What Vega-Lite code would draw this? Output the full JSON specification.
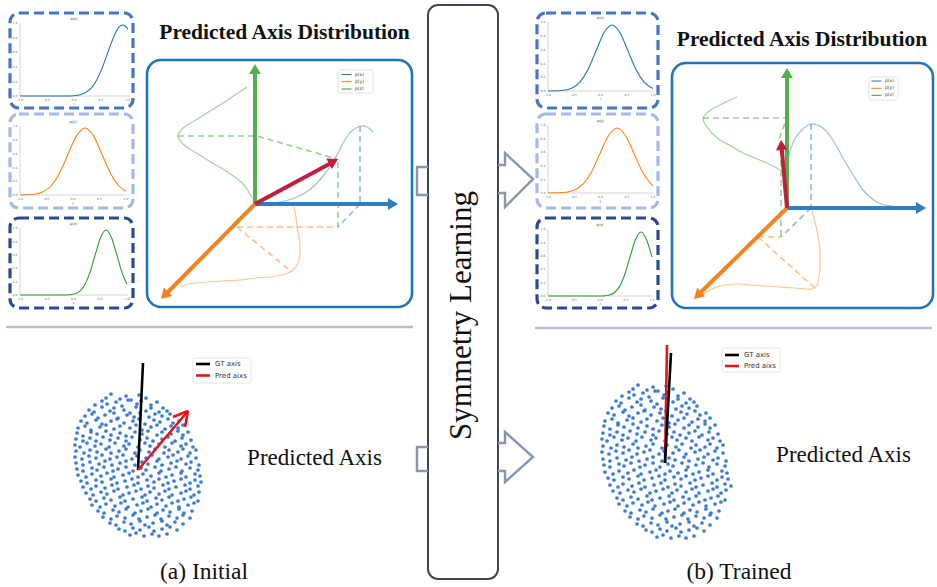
{
"$schema":"https://vega.github.io/schema/vega-lite/v6.json",
"width":937,"height":587,"padding":0,
"autosize":{"type":"fit","contains":"padding"},
"background":"white",
"config":{"view":{"stroke":null}},
"datasets":{
"cloud":[
{"x":106,"y":398},{"x":111,"y":394},{"x":120,"y":399},{"x":126,"y":396},{"x":131,"y":400},{"x":139,"y":395},{"x":146,"y":398},
{"x":95,"y":405},{"x":102,"y":401},{"x":107,"y":404},{"x":116,"y":402},{"x":122,"y":406},{"x":128,"y":400},{"x":137,"y":404},{"x":141,"y":401},{"x":151,"y":405},{"x":157,"y":402},
{"x":89,"y":410},{"x":94,"y":412},{"x":102,"y":407},{"x":110,"y":411},{"x":114,"y":408},{"x":124,"y":410},{"x":130,"y":413},{"x":136,"y":407},{"x":146,"y":411},{"x":151,"y":408},{"x":159,"y":412},{"x":163,"y":408},{"x":167,"y":411},
{"x":85,"y":416},{"x":92,"y":414},{"x":98,"y":418},{"x":105,"y":415},{"x":114,"y":413},{"x":118,"y":418},{"x":127,"y":415},{"x":134,"y":417},{"x":140,"y":413},{"x":149,"y":417},{"x":155,"y":414},{"x":162,"y":416},{"x":170,"y":414},
{"x":81,"y":421},{"x":87,"y":423},{"x":96,"y":420},{"x":102,"y":424},{"x":111,"y":421},{"x":117,"y":419},{"x":124,"y":423},{"x":133,"y":421},{"x":139,"y":419},{"x":145,"y":424},{"x":154,"y":420},{"x":160,"y":422},{"x":168,"y":419},{"x":173,"y":423},{"x":179,"y":421},
{"x":78,"y":428},{"x":85,"y":426},{"x":91,"y":430},{"x":100,"y":427},{"x":106,"y":425},{"x":114,"y":429},{"x":120,"y":426},{"x":130,"y":428},{"x":136,"y":425},{"x":142,"y":430},{"x":151,"y":427},{"x":157,"y":425},{"x":165,"y":429},{"x":171,"y":426},{"x":178,"y":428},{"x":183,"y":425},
{"x":77,"y":433},{"x":83,"y":436},{"x":91,"y":432},{"x":97,"y":434},{"x":106,"y":431},{"x":111,"y":435},{"x":120,"y":433},{"x":126,"y":436},{"x":135,"y":432},{"x":142,"y":434},{"x":148,"y":431},{"x":157,"y":435},{"x":162,"y":432},{"x":171,"y":434},{"x":178,"y":431},{"x":183,"y":435},{"x":188,"y":432},
{"x":76,"y":439},{"x":83,"y":441},{"x":90,"y":438},{"x":96,"y":441},{"x":103,"y":437},{"x":110,"y":440},{"x":118,"y":438},{"x":126,"y":441},{"x":132,"y":437},{"x":140,"y":440},{"x":147,"y":438},{"x":153,"y":441},{"x":162,"y":439},{"x":168,"y":437},{"x":175,"y":441},{"x":182,"y":438},{"x":191,"y":440},
{"x":75,"y":445},{"x":80,"y":447},{"x":87,"y":443},{"x":95,"y":446},{"x":101,"y":444},{"x":109,"y":447},{"x":115,"y":443},{"x":124,"y":446},{"x":129,"y":444},{"x":138,"y":447},{"x":145,"y":443},{"x":150,"y":446},{"x":159,"y":444},{"x":165,"y":447},{"x":172,"y":443},{"x":181,"y":446},{"x":186,"y":444},{"x":193,"y":447},
{"x":76,"y":451},{"x":84,"y":453},{"x":90,"y":450},{"x":97,"y":452},{"x":106,"y":449},{"x":111,"y":453},{"x":119,"y":451},{"x":126,"y":449},{"x":135,"y":453},{"x":140,"y":450},{"x":149,"y":452},{"x":155,"y":449},{"x":164,"y":453},{"x":169,"y":450},{"x":178,"y":452},{"x":183,"y":449},{"x":190,"y":453},{"x":196,"y":450},
{"x":75,"y":457},{"x":82,"y":459},{"x":89,"y":456},{"x":96,"y":458},{"x":102,"y":455},{"x":110,"y":459},{"x":117,"y":457},{"x":123,"y":455},{"x":132,"y":459},{"x":137,"y":456},{"x":146,"y":458},{"x":152,"y":455},{"x":159,"y":459},{"x":168,"y":457},{"x":173,"y":455},{"x":181,"y":459},{"x":188,"y":456},{"x":196,"y":458},
{"x":76,"y":463},{"x":83,"y":465},{"x":90,"y":462},{"x":99,"y":464},{"x":105,"y":461},{"x":112,"y":465},{"x":120,"y":463},{"x":126,"y":461},{"x":135,"y":465},{"x":142,"y":462},{"x":148,"y":464},{"x":157,"y":461},{"x":162,"y":465},{"x":171,"y":463},{"x":177,"y":461},{"x":186,"y":464},{"x":191,"y":462},{"x":199,"y":465},
{"x":77,"y":469},{"x":83,"y":471},{"x":92,"y":468},{"x":97,"y":470},{"x":104,"y":467},{"x":113,"y":471},{"x":118,"y":469},{"x":126,"y":467},{"x":133,"y":471},{"x":141,"y":468},{"x":146,"y":470},{"x":155,"y":467},{"x":161,"y":471},{"x":169,"y":469},{"x":176,"y":467},{"x":182,"y":471},{"x":190,"y":468},{"x":198,"y":470},
{"x":78,"y":475},{"x":86,"y":477},{"x":92,"y":474},{"x":101,"y":476},{"x":107,"y":473},{"x":114,"y":477},{"x":123,"y":475},{"x":129,"y":473},{"x":138,"y":477},{"x":143,"y":474},{"x":151,"y":476},{"x":159,"y":473},{"x":166,"y":477},{"x":172,"y":475},{"x":181,"y":473},{"x":186,"y":477},{"x":195,"y":474},{"x":200,"y":476},
{"x":81,"y":481},{"x":87,"y":483},{"x":96,"y":480},{"x":102,"y":482},{"x":111,"y":479},{"x":117,"y":483},{"x":125,"y":481},{"x":132,"y":479},{"x":138,"y":483},{"x":147,"y":480},{"x":154,"y":482},{"x":159,"y":479},{"x":168,"y":483},{"x":174,"y":481},{"x":181,"y":479},{"x":190,"y":483},{"x":195,"y":480},{"x":201,"y":482},
{"x":83,"y":487},{"x":91,"y":489},{"x":96,"y":486},{"x":105,"y":488},{"x":112,"y":485},{"x":118,"y":489},{"x":127,"y":487},{"x":134,"y":485},{"x":141,"y":489},{"x":148,"y":486},{"x":154,"y":488},{"x":163,"y":485},{"x":169,"y":489},{"x":176,"y":487},{"x":185,"y":485},{"x":190,"y":489},{"x":198,"y":486},
{"x":86,"y":493},{"x":93,"y":495},{"x":101,"y":492},{"x":107,"y":494},{"x":114,"y":491},{"x":123,"y":495},{"x":129,"y":493},{"x":136,"y":491},{"x":145,"y":495},{"x":150,"y":492},{"x":159,"y":494},{"x":165,"y":491},{"x":172,"y":495},{"x":181,"y":493},{"x":186,"y":491},{"x":194,"y":495},{"x":199,"y":492},
{"x":90,"y":499},{"x":96,"y":501},{"x":104,"y":498},{"x":111,"y":500},{"x":120,"y":497},{"x":125,"y":501},{"x":133,"y":499},{"x":142,"y":497},{"x":147,"y":501},{"x":156,"y":498},{"x":162,"y":500},{"x":169,"y":497},{"x":178,"y":501},{"x":184,"y":499},{"x":191,"y":497},{"x":198,"y":501},
{"x":92,"y":505},{"x":100,"y":507},{"x":106,"y":504},{"x":115,"y":506},{"x":121,"y":503},{"x":128,"y":507},{"x":137,"y":505},{"x":143,"y":503},{"x":151,"y":507},{"x":157,"y":504},{"x":166,"y":506},{"x":172,"y":503},{"x":179,"y":507},{"x":188,"y":505},{"x":194,"y":503},
{"x":98,"y":511},{"x":104,"y":513},{"x":113,"y":510},{"x":119,"y":512},{"x":126,"y":509},{"x":135,"y":513},{"x":141,"y":511},{"x":148,"y":509},{"x":157,"y":513},{"x":163,"y":510},{"x":170,"y":512},{"x":179,"y":509},{"x":184,"y":513},{"x":192,"y":511},
{"x":103,"y":517},{"x":111,"y":519},{"x":117,"y":516},{"x":125,"y":518},{"x":133,"y":515},{"x":139,"y":519},{"x":147,"y":517},{"x":155,"y":515},{"x":161,"y":519},{"x":169,"y":516},{"x":177,"y":518},{"x":183,"y":515},{"x":190,"y":518},
{"x":110,"y":523},{"x":116,"y":525},{"x":124,"y":522},{"x":131,"y":524},{"x":140,"y":521},{"x":145,"y":525},{"x":153,"y":523},{"x":162,"y":521},{"x":167,"y":525},{"x":175,"y":522},{"x":183,"y":524},
{"x":119,"y":529},{"x":125,"y":531},{"x":133,"y":528},{"x":140,"y":530},{"x":149,"y":527},{"x":154,"y":531},{"x":162,"y":529},{"x":170,"y":527},{"x":177,"y":530},
{"x":130,"y":535},{"x":136,"y":533},{"x":144,"y":536},{"x":152,"y":534},{"x":159,"y":536},{"x":167,"y":534},
{"x":633,"y":389},{"x":638,"y":385},{"x":647,"y":390},{"x":653,"y":387},{"x":658,"y":391},{"x":666,"y":386},{"x":673,"y":389},
{"x":622,"y":396},{"x":629,"y":392},{"x":634,"y":395},{"x":643,"y":393},{"x":649,"y":397},{"x":655,"y":391},{"x":664,"y":395},{"x":668,"y":392},{"x":678,"y":396},{"x":684,"y":393},
{"x":616,"y":401},{"x":621,"y":403},{"x":629,"y":398},{"x":637,"y":402},{"x":641,"y":399},{"x":651,"y":401},{"x":657,"y":404},{"x":663,"y":398},{"x":673,"y":402},{"x":678,"y":399},{"x":686,"y":403},{"x":690,"y":399},{"x":694,"y":402},
{"x":612,"y":408},{"x":619,"y":406},{"x":625,"y":410},{"x":632,"y":407},{"x":641,"y":405},{"x":645,"y":410},{"x":654,"y":407},{"x":661,"y":409},{"x":667,"y":405},{"x":676,"y":409},{"x":682,"y":406},{"x":689,"y":408},{"x":697,"y":406},
{"x":608,"y":413},{"x":614,"y":415},{"x":623,"y":412},{"x":629,"y":416},{"x":638,"y":413},{"x":644,"y":411},{"x":651,"y":415},{"x":660,"y":413},{"x":666,"y":411},{"x":672,"y":416},{"x":681,"y":412},{"x":687,"y":414},{"x":695,"y":411},{"x":700,"y":415},{"x":706,"y":413},
{"x":605,"y":421},{"x":612,"y":419},{"x":618,"y":423},{"x":627,"y":420},{"x":633,"y":418},{"x":641,"y":422},{"x":647,"y":419},{"x":657,"y":421},{"x":663,"y":418},{"x":669,"y":423},{"x":678,"y":420},{"x":684,"y":418},{"x":692,"y":422},{"x":698,"y":419},{"x":705,"y":421},{"x":710,"y":418},
{"x":604,"y":426},{"x":610,"y":429},{"x":618,"y":425},{"x":624,"y":427},{"x":633,"y":424},{"x":638,"y":428},{"x":647,"y":426},{"x":653,"y":429},{"x":662,"y":425},{"x":669,"y":427},{"x":675,"y":424},{"x":684,"y":428},{"x":689,"y":425},{"x":698,"y":427},{"x":705,"y":424},{"x":710,"y":428},{"x":715,"y":425},
{"x":603,"y":433},{"x":610,"y":435},{"x":617,"y":432},{"x":623,"y":435},{"x":630,"y":431},{"x":637,"y":434},{"x":645,"y":432},{"x":653,"y":435},{"x":659,"y":431},{"x":667,"y":434},{"x":674,"y":432},{"x":680,"y":435},{"x":689,"y":433},{"x":695,"y":431},{"x":702,"y":435},{"x":709,"y":432},{"x":718,"y":434},
{"x":602,"y":439},{"x":607,"y":441},{"x":614,"y":437},{"x":622,"y":440},{"x":628,"y":438},{"x":636,"y":441},{"x":642,"y":437},{"x":651,"y":440},{"x":656,"y":438},{"x":665,"y":441},{"x":672,"y":437},{"x":677,"y":440},{"x":686,"y":438},{"x":692,"y":441},{"x":699,"y":437},{"x":708,"y":440},{"x":713,"y":438},{"x":720,"y":441},
{"x":603,"y":446},{"x":611,"y":448},{"x":617,"y":445},{"x":624,"y":447},{"x":633,"y":444},{"x":638,"y":448},{"x":646,"y":446},{"x":653,"y":444},{"x":662,"y":448},{"x":667,"y":445},{"x":676,"y":447},{"x":682,"y":444},{"x":691,"y":448},{"x":696,"y":445},{"x":705,"y":447},{"x":710,"y":444},{"x":717,"y":448},{"x":723,"y":445},
{"x":602,"y":452},{"x":609,"y":454},{"x":616,"y":451},{"x":623,"y":453},{"x":629,"y":450},{"x":637,"y":454},{"x":644,"y":452},{"x":650,"y":450},{"x":659,"y":454},{"x":664,"y":451},{"x":673,"y":453},{"x":679,"y":450},{"x":686,"y":454},{"x":695,"y":452},{"x":700,"y":450},{"x":708,"y":454},{"x":715,"y":451},{"x":723,"y":453},
{"x":603,"y":459},{"x":610,"y":461},{"x":617,"y":458},{"x":626,"y":460},{"x":632,"y":457},{"x":639,"y":461},{"x":647,"y":459},{"x":653,"y":457},{"x":662,"y":461},{"x":669,"y":458},{"x":675,"y":460},{"x":684,"y":457},{"x":689,"y":461},{"x":698,"y":459},{"x":704,"y":457},{"x":713,"y":460},{"x":718,"y":458},{"x":726,"y":461},
{"x":604,"y":465},{"x":610,"y":467},{"x":619,"y":464},{"x":624,"y":466},{"x":631,"y":463},{"x":640,"y":467},{"x":645,"y":465},{"x":653,"y":463},{"x":660,"y":467},{"x":668,"y":464},{"x":673,"y":466},{"x":682,"y":463},{"x":688,"y":467},{"x":696,"y":465},{"x":703,"y":463},{"x":709,"y":467},{"x":717,"y":464},{"x":725,"y":466},
{"x":605,"y":472},{"x":613,"y":474},{"x":619,"y":471},{"x":628,"y":473},{"x":634,"y":470},{"x":641,"y":474},{"x":650,"y":472},{"x":656,"y":470},{"x":665,"y":474},{"x":670,"y":471},{"x":678,"y":473},{"x":686,"y":470},{"x":693,"y":474},{"x":699,"y":472},{"x":708,"y":470},{"x":713,"y":474},{"x":722,"y":471},{"x":727,"y":473},
{"x":608,"y":478},{"x":614,"y":480},{"x":623,"y":477},{"x":629,"y":479},{"x":638,"y":476},{"x":644,"y":480},{"x":652,"y":478},{"x":659,"y":476},{"x":665,"y":480},{"x":674,"y":477},{"x":681,"y":479},{"x":686,"y":476},{"x":695,"y":480},{"x":701,"y":478},{"x":708,"y":476},{"x":717,"y":480},{"x":722,"y":477},{"x":728,"y":479},
{"x":610,"y":485},{"x":618,"y":487},{"x":623,"y":484},{"x":632,"y":486},{"x":639,"y":483},{"x":645,"y":487},{"x":654,"y":485},{"x":661,"y":483},{"x":668,"y":487},{"x":675,"y":484},{"x":681,"y":486},{"x":690,"y":483},{"x":696,"y":487},{"x":703,"y":485},{"x":712,"y":483},{"x":717,"y":487},{"x":725,"y":484},{"x":731,"y":486},
{"x":613,"y":491},{"x":620,"y":493},{"x":628,"y":490},{"x":634,"y":492},{"x":641,"y":489},{"x":650,"y":493},{"x":656,"y":491},{"x":663,"y":489},{"x":672,"y":493},{"x":677,"y":490},{"x":686,"y":492},{"x":692,"y":489},{"x":699,"y":493},{"x":708,"y":491},{"x":713,"y":489},{"x":721,"y":493},{"x":726,"y":490},
{"x":617,"y":498},{"x":623,"y":500},{"x":631,"y":497},{"x":638,"y":499},{"x":647,"y":496},{"x":652,"y":500},{"x":660,"y":498},{"x":669,"y":496},{"x":674,"y":500},{"x":683,"y":497},{"x":689,"y":499},{"x":696,"y":496},{"x":705,"y":500},{"x":711,"y":498},{"x":718,"y":496},{"x":725,"y":500},
{"x":619,"y":504},{"x":627,"y":506},{"x":633,"y":503},{"x":642,"y":505},{"x":648,"y":502},{"x":655,"y":506},{"x":664,"y":504},{"x":670,"y":502},{"x":678,"y":506},{"x":684,"y":503},{"x":693,"y":505},{"x":699,"y":502},{"x":706,"y":506},{"x":715,"y":504},{"x":721,"y":502},
{"x":625,"y":511},{"x":631,"y":513},{"x":640,"y":510},{"x":646,"y":512},{"x":653,"y":509},{"x":662,"y":513},{"x":668,"y":511},{"x":675,"y":509},{"x":684,"y":513},{"x":690,"y":510},{"x":697,"y":512},{"x":706,"y":509},{"x":711,"y":513},{"x":719,"y":511},
{"x":630,"y":517},{"x":638,"y":519},{"x":644,"y":516},{"x":652,"y":518},{"x":660,"y":515},{"x":666,"y":519},{"x":674,"y":517},{"x":682,"y":515},{"x":688,"y":519},{"x":696,"y":516},{"x":704,"y":518},{"x":710,"y":515},{"x":717,"y":518},
{"x":637,"y":524},{"x":643,"y":526},{"x":651,"y":523},{"x":658,"y":525},{"x":667,"y":522},{"x":672,"y":526},{"x":680,"y":524},{"x":689,"y":522},{"x":694,"y":526},{"x":702,"y":523},{"x":710,"y":525},
{"x":646,"y":530},{"x":652,"y":532},{"x":660,"y":529},{"x":667,"y":531},{"x":676,"y":528},{"x":681,"y":532},{"x":689,"y":530},{"x":697,"y":528},{"x":704,"y":531},
{"x":657,"y":537},{"x":663,"y":535},{"x":671,"y":538},{"x":679,"y":536},{"x":686,"y":538},{"x":694,"y":536}
],
"sc":[
{"g":"L1","s":"x","o":0,"x":20,"y":96},{"g":"L1","s":"x","o":1,"x":70,"y":96},{"g":"L1","s":"x","o":2,"x":77.7,"y":95.2},{"g":"L1","s":"x","o":3,"x":85.2,"y":92.9},{"g":"L1","s":"x","o":4,"x":92.7,"y":86.4},{"g":"L1","s":"x","o":5,"x":100.2,"y":72.9},{"g":"L1","s":"x","o":6,"x":107.7,"y":52.9},{"g":"L1","s":"x","o":7,"x":111.5,"y":42.4},{"g":"L1","s":"x","o":8,"x":115.2,"y":33.4},{"g":"L1","s":"x","o":9,"x":119,"y":27.2},{"g":"L1","s":"x","o":10,"x":122.7,"y":25},{"g":"L1","s":"x","o":11,"x":125,"y":25.8},{"g":"L1","s":"x","o":12,"x":128,"y":29.3},
{"g":"L2","s":"y","o":0,"x":20,"y":195},{"g":"L2","s":"y","o":1,"x":34,"y":194.3},{"g":"L2","s":"y","o":2,"x":42.5,"y":192},{"g":"L2","s":"y","o":3,"x":51,"y":186},{"g":"L2","s":"y","o":4,"x":59.5,"y":173.2},{"g":"L2","s":"y","o":5,"x":68,"y":154.3},{"g":"L2","s":"y","o":6,"x":76.5,"y":135.9},{"g":"L2","s":"y","o":7,"x":85,"y":128},{"g":"L2","s":"y","o":8,"x":93.5,"y":135.9},{"g":"L2","s":"y","o":9,"x":102,"y":154.3},{"g":"L2","s":"y","o":10,"x":110.5,"y":173.2},{"g":"L2","s":"y","o":11,"x":119,"y":186},{"g":"L2","s":"y","o":12,"x":126,"y":191.3},
{"g":"L3","s":"z","o":0,"x":20,"y":295},{"g":"L3","s":"z","o":1,"x":67,"y":295},{"g":"L3","s":"z","o":2,"x":73,"y":294.3},{"g":"L3","s":"z","o":3,"x":78.5,"y":292.1},{"g":"L3","s":"z","o":4,"x":84,"y":286.2},{"g":"L3","s":"z","o":5,"x":89.5,"y":273.9},{"g":"L3","s":"z","o":6,"x":95,"y":255.5},{"g":"L3","s":"z","o":7,"x":100.5,"y":237.7},{"g":"L3","s":"z","o":8,"x":106,"y":230},{"g":"L3","s":"z","o":9,"x":111.5,"y":237.7},{"g":"L3","s":"z","o":10,"x":117,"y":255.5},{"g":"L3","s":"z","o":11,"x":122.5,"y":273.9},{"g":"L3","s":"z","o":12,"x":127,"y":284.3},
{"g":"R1","s":"x","o":0,"x":548,"y":91},{"g":"R1","s":"x","o":1,"x":564,"y":90.3},{"g":"R1","s":"x","o":2,"x":572,"y":88.1},{"g":"R1","s":"x","o":3,"x":580,"y":82.1},{"g":"R1","s":"x","o":4,"x":588,"y":69.6},{"g":"R1","s":"x","o":5,"x":596,"y":51},{"g":"R1","s":"x","o":6,"x":604,"y":32.8},{"g":"R1","s":"x","o":7,"x":612,"y":25},{"g":"R1","s":"x","o":8,"x":620,"y":32.8},{"g":"R1","s":"x","o":9,"x":628,"y":51},{"g":"R1","s":"x","o":10,"x":636,"y":69.6},{"g":"R1","s":"x","o":11,"x":644,"y":82.1},{"g":"R1","s":"x","o":12,"x":653,"y":88.5},
{"g":"R2","s":"y","o":0,"x":548,"y":193},{"g":"R2","s":"y","o":1,"x":566,"y":192.3},{"g":"R2","s":"y","o":2,"x":574.5,"y":190.1},{"g":"R2","s":"y","o":3,"x":583,"y":184.2},{"g":"R2","s":"y","o":4,"x":591.5,"y":171.9},{"g":"R2","s":"y","o":5,"x":600,"y":153.5},{"g":"R2","s":"y","o":6,"x":608.5,"y":135.7},{"g":"R2","s":"y","o":7,"x":617,"y":128},{"g":"R2","s":"y","o":8,"x":625.5,"y":135.7},{"g":"R2","s":"y","o":9,"x":634,"y":153.5},{"g":"R2","s":"y","o":10,"x":642.5,"y":171.9},{"g":"R2","s":"y","o":11,"x":653,"y":186.1},
{"g":"R3","s":"z","o":0,"x":548,"y":296},{"g":"R3","s":"z","o":1,"x":602,"y":296},{"g":"R3","s":"z","o":2,"x":608,"y":295.3},{"g":"R3","s":"z","o":3,"x":613.5,"y":293.2},{"g":"R3","s":"z","o":4,"x":619,"y":287.4},{"g":"R3","s":"z","o":5,"x":624.5,"y":275.2},{"g":"R3","s":"z","o":6,"x":630,"y":257.2},{"g":"R3","s":"z","o":7,"x":635.5,"y":239.5},{"g":"R3","s":"z","o":8,"x":641,"y":232},{"g":"R3","s":"z","o":9,"x":646.5,"y":239.5},{"g":"R3","s":"z","o":10,"x":652,"y":257.2}
],
"dc":[
{"g":"LZ","s":"z","o":0,"x":247,"y":87},{"g":"LZ","s":"z","o":1,"x":235,"y":95},{"g":"LZ","s":"z","o":2,"x":223,"y":103},{"g":"LZ","s":"z","o":3,"x":210,"y":111},{"g":"LZ","s":"z","o":4,"x":199,"y":118},{"g":"LZ","s":"z","o":5,"x":189,"y":124},{"g":"LZ","s":"z","o":6,"x":182,"y":129},{"g":"LZ","s":"z","o":7,"x":178,"y":136},{"g":"LZ","s":"z","o":8,"x":181,"y":142},{"g":"LZ","s":"z","o":9,"x":188,"y":148},{"g":"LZ","s":"z","o":10,"x":198,"y":154},{"g":"LZ","s":"z","o":11,"x":209,"y":161},{"g":"LZ","s":"z","o":12,"x":221,"y":168},{"g":"LZ","s":"z","o":13,"x":232,"y":175},{"g":"LZ","s":"z","o":14,"x":241,"y":182},{"g":"LZ","s":"z","o":15,"x":247,"y":189},{"g":"LZ","s":"z","o":16,"x":252,"y":198},
{"g":"LX","s":"x","o":0,"x":273,"y":203},{"g":"LX","s":"x","o":1,"x":285,"y":201},{"g":"LX","s":"x","o":2,"x":297,"y":197},{"g":"LX","s":"x","o":3,"x":308,"y":191},{"g":"LX","s":"x","o":4,"x":317,"y":183},{"g":"LX","s":"x","o":5,"x":324,"y":175},{"g":"LX","s":"x","o":6,"x":330,"y":167},{"g":"LX","s":"x","o":7,"x":337,"y":155},{"g":"LX","s":"x","o":8,"x":343,"y":143},{"g":"LX","s":"x","o":9,"x":348,"y":135},{"g":"LX","s":"x","o":10,"x":353,"y":130},{"g":"LX","s":"x","o":11,"x":358,"y":127},{"g":"LX","s":"x","o":12,"x":362,"y":126},{"g":"LX","s":"x","o":13,"x":366,"y":126.5},{"g":"LX","s":"x","o":14,"x":370,"y":129},{"g":"LX","s":"x","o":15,"x":373,"y":132},
{"g":"LY","s":"y","o":0,"x":294,"y":207},{"g":"LY","s":"y","o":1,"x":296,"y":217},{"g":"LY","s":"y","o":2,"x":297,"y":227},{"g":"LY","s":"y","o":3,"x":299,"y":237},{"g":"LY","s":"y","o":4,"x":300,"y":247},{"g":"LY","s":"y","o":5,"x":300,"y":255},{"g":"LY","s":"y","o":6,"x":298,"y":263},{"g":"LY","s":"y","o":7,"x":295,"y":268},{"g":"LY","s":"y","o":8,"x":290,"y":272},{"g":"LY","s":"y","o":9,"x":282,"y":275},{"g":"LY","s":"y","o":10,"x":270,"y":277},{"g":"LY","s":"y","o":11,"x":255,"y":278},{"g":"LY","s":"y","o":12,"x":240,"y":280},{"g":"LY","s":"y","o":13,"x":222,"y":281},{"g":"LY","s":"y","o":14,"x":207,"y":282},{"g":"LY","s":"y","o":15,"x":195,"y":283},{"g":"LY","s":"y","o":16,"x":185,"y":285},{"g":"LY","s":"y","o":17,"x":180,"y":287},
{"g":"RZ","s":"z","o":0,"x":737,"y":97},{"g":"RZ","s":"z","o":1,"x":728,"y":101},{"g":"RZ","s":"z","o":2,"x":720,"y":105},{"g":"RZ","s":"z","o":3,"x":712,"y":109},{"g":"RZ","s":"z","o":4,"x":707,"y":113},{"g":"RZ","s":"z","o":5,"x":704,"y":116},{"g":"RZ","s":"z","o":6,"x":703,"y":119},{"g":"RZ","s":"z","o":7,"x":704,"y":122},{"g":"RZ","s":"z","o":8,"x":707,"y":127},{"g":"RZ","s":"z","o":9,"x":712,"y":133},{"g":"RZ","s":"z","o":10,"x":720,"y":140},{"g":"RZ","s":"z","o":11,"x":731,"y":146},{"g":"RZ","s":"z","o":12,"x":743,"y":153},{"g":"RZ","s":"z","o":13,"x":755,"y":158},{"g":"RZ","s":"z","o":14,"x":767,"y":163},{"g":"RZ","s":"z","o":15,"x":775,"y":167},{"g":"RZ","s":"z","o":16,"x":780,"y":170},
{"g":"RX","s":"x","o":0,"x":788,"y":160},{"g":"RX","s":"x","o":1,"x":790,"y":151},{"g":"RX","s":"x","o":2,"x":793,"y":143},{"g":"RX","s":"x","o":3,"x":796,"y":137},{"g":"RX","s":"x","o":4,"x":800,"y":132},{"g":"RX","s":"x","o":5,"x":805,"y":127},{"g":"RX","s":"x","o":6,"x":811,"y":124},{"g":"RX","s":"x","o":7,"x":817,"y":125},{"g":"RX","s":"x","o":8,"x":823,"y":128},{"g":"RX","s":"x","o":9,"x":830,"y":136},{"g":"RX","s":"x","o":10,"x":837,"y":147},{"g":"RX","s":"x","o":11,"x":843,"y":158},{"g":"RX","s":"x","o":12,"x":850,"y":170},{"g":"RX","s":"x","o":13,"x":857,"y":181},{"g":"RX","s":"x","o":14,"x":863,"y":190},{"g":"RX","s":"x","o":15,"x":870,"y":197},{"g":"RX","s":"x","o":16,"x":877,"y":202},{"g":"RX","s":"x","o":17,"x":885,"y":205},{"g":"RX","s":"x","o":18,"x":893,"y":206},
{"g":"RY","s":"y","o":0,"x":812,"y":209},{"g":"RY","s":"y","o":1,"x":814,"y":219},{"g":"RY","s":"y","o":2,"x":817,"y":230},{"g":"RY","s":"y","o":3,"x":819,"y":242},{"g":"RY","s":"y","o":4,"x":820,"y":253},{"g":"RY","s":"y","o":5,"x":820,"y":265},{"g":"RY","s":"y","o":6,"x":819,"y":277},{"g":"RY","s":"y","o":7,"x":817,"y":285},{"g":"RY","s":"y","o":8,"x":813,"y":289},{"g":"RY","s":"y","o":9,"x":806,"y":289},{"g":"RY","s":"y","o":10,"x":795,"y":288},{"g":"RY","s":"y","o":11,"x":780,"y":287},{"g":"RY","s":"y","o":12,"x":765,"y":286},{"g":"RY","s":"y","o":13,"x":750,"y":285},{"g":"RY","s":"y","o":14,"x":737,"y":284},{"g":"RY","s":"y","o":15,"x":725,"y":285},{"g":"RY","s":"y","o":16,"x":717,"y":287},{"g":"RY","s":"y","o":17,"x":710,"y":290},{"g":"RY","s":"y","o":18,"x":703,"y":294},{"g":"RY","s":"y","o":19,"x":697,"y":298}
],
"dd":[
{"g":"D1","s":"z","o":0,"x":178,"y":136},{"g":"D1","s":"z","o":1,"x":257,"y":136},{"g":"D1","s":"z","o":2,"x":337,"y":159},
{"g":"D2","s":"z","o":0,"x":338,"y":162},{"g":"D2","s":"z","o":1,"x":338,"y":227},
{"g":"D3","s":"x","o":0,"x":360,"y":126},{"g":"D3","s":"x","o":1,"x":360,"y":204},
{"g":"D4","s":"x","o":0,"x":360,"y":204},{"g":"D4","s":"x","o":1,"x":338,"y":227},
{"g":"D5","s":"y","o":0,"x":237,"y":227},{"g":"D5","s":"y","o":1,"x":338,"y":227},
{"g":"D6","s":"y","o":0,"x":237,"y":227},{"g":"D6","s":"y","o":1,"x":292,"y":272},
{"g":"D7","s":"z","o":0,"x":703,"y":118},{"g":"D7","s":"z","o":1,"x":787,"y":118},{"g":"D7","s":"z","o":2,"x":779,"y":139},
{"g":"D8","s":"z","o":0,"x":781,"y":150},{"g":"D8","s":"z","o":1,"x":781,"y":237},
{"g":"D9","s":"x","o":0,"x":811,"y":124},{"g":"D9","s":"x","o":1,"x":811,"y":208},
{"g":"D10","s":"x","o":0,"x":811,"y":208},{"g":"D10","s":"x","o":1,"x":781,"y":237},
{"g":"D11","s":"y","o":0,"x":758,"y":237},{"g":"D11","s":"y","o":1,"x":781,"y":237},
{"g":"D12","s":"y","o":0,"x":758,"y":237},{"g":"D12","s":"y","o":1,"x":816,"y":289}
],
"ho":[
{"g":"A","o":0,"x":428,"y":167},{"g":"A","o":1,"x":417,"y":167},{"g":"A","o":2,"x":417,"y":195},{"g":"A","o":3,"x":428,"y":195},
{"g":"B","o":0,"x":498,"y":165},{"g":"B","o":1,"x":505,"y":165},{"g":"B","o":2,"x":505,"y":153},{"g":"B","o":3,"x":533,"y":179},{"g":"B","o":4,"x":505,"y":207},{"g":"B","o":5,"x":505,"y":193},{"g":"B","o":6,"x":498,"y":193},
{"g":"C","o":0,"x":428,"y":447},{"g":"C","o":1,"x":417,"y":447},{"g":"C","o":2,"x":417,"y":471},{"g":"C","o":3,"x":428,"y":471},
{"g":"D","o":0,"x":498,"y":443},{"g":"D","o":1,"x":505,"y":443},{"g":"D","o":2,"x":505,"y":432},{"g":"D","o":3,"x":533,"y":457},{"g":"D","o":4,"x":505,"y":482},{"g":"D","o":5,"x":505,"y":471},{"g":"D","o":6,"x":498,"y":471}
],
"tk":[
{"x":20,"y":99.5,"t":"-1.0"},{"x":47,"y":99.5,"t":"-0.5"},{"x":74,"y":99.5,"t":"0.0"},{"x":101,"y":99.5,"t":"0.5"},{"x":128,"y":99.5,"t":"1.0"},
{"x":15,"y":96,"t":"0.0"},{"x":15,"y":81.4,"t":"0.2"},{"x":15,"y":66.8,"t":"0.4"},{"x":15,"y":52.2,"t":"0.6"},{"x":15,"y":37.6,"t":"0.8"},{"x":15,"y":23,"t":"1.0"},{"x":74,"y":103.5,"t":"x"},
{"x":20,"y":198.5,"t":"-1.0"},{"x":46.5,"y":198.5,"t":"-0.5"},{"x":73,"y":198.5,"t":"0.0"},{"x":99.5,"y":198.5,"t":"0.5"},{"x":126,"y":198.5,"t":"1.0"},
{"x":15,"y":195,"t":"0.0"},{"x":15,"y":181.2,"t":"0.2"},{"x":15,"y":167.4,"t":"0.4"},{"x":15,"y":153.6,"t":"0.6"},{"x":15,"y":139.8,"t":"0.8"},{"x":15,"y":126,"t":"1.0"},{"x":73,"y":202.5,"t":"y"},
{"x":20,"y":298.5,"t":"-1.0"},{"x":47,"y":298.5,"t":"-0.5"},{"x":73.5,"y":298.5,"t":"0.0"},{"x":100,"y":298.5,"t":"0.5"},{"x":127,"y":298.5,"t":"1.0"},
{"x":15,"y":295,"t":"0.0"},{"x":15,"y":281.6,"t":"0.2"},{"x":15,"y":268.2,"t":"0.4"},{"x":15,"y":254.8,"t":"0.6"},{"x":15,"y":241.4,"t":"0.8"},{"x":15,"y":228,"t":"1.0"},{"x":73.5,"y":302.5,"t":"z"},
{"x":548,"y":94.5,"t":"-1.0"},{"x":574,"y":94.5,"t":"-0.5"},{"x":600.5,"y":94.5,"t":"0.0"},{"x":627,"y":94.5,"t":"0.5"},{"x":653,"y":94.5,"t":"1.0"},
{"x":543,"y":91,"t":"0.0"},{"x":543,"y":77.2,"t":"0.2"},{"x":543,"y":63.4,"t":"0.4"},{"x":543,"y":49.6,"t":"0.6"},{"x":543,"y":35.8,"t":"0.8"},{"x":543,"y":22,"t":"1.0"},{"x":600.5,"y":98.5,"t":"x"},
{"x":548,"y":196.5,"t":"-1.0"},{"x":574,"y":196.5,"t":"-0.5"},{"x":600.5,"y":196.5,"t":"0.0"},{"x":627,"y":196.5,"t":"0.5"},{"x":653,"y":196.5,"t":"1.0"},
{"x":543,"y":193,"t":"0.0"},{"x":543,"y":179.4,"t":"0.2"},{"x":543,"y":165.8,"t":"0.4"},{"x":543,"y":152.2,"t":"0.6"},{"x":543,"y":138.6,"t":"0.8"},{"x":543,"y":125,"t":"1.0"},{"x":600.5,"y":200.5,"t":"y"},
{"x":548,"y":299.5,"t":"-1.0"},{"x":574,"y":299.5,"t":"-0.5"},{"x":600,"y":299.5,"t":"0.0"},{"x":626,"y":299.5,"t":"0.5"},{"x":652,"y":299.5,"t":"1.0"},
{"x":543,"y":296,"t":"0.0"},{"x":543,"y":282.6,"t":"0.2"},{"x":543,"y":269.2,"t":"0.4"},{"x":543,"y":255.8,"t":"0.6"},{"x":543,"y":242.4,"t":"0.8"},{"x":543,"y":229,"t":"1.0"},{"x":600,"y":303.5,"t":"z"}
],
"tt":[
{"x":74,"y":19,"t":"p(x)"},{"x":73,"y":122,"t":"p(y)"},{"x":73.5,"y":224,"t":"p(z)"},{"x":600.5,"y":18,"t":"p(x)"},{"x":600.5,"y":121,"t":"p(y)"},{"x":600,"y":225,"t":"p(z)"}
],
"sp":[
{"x":20,"y":23,"x2":20,"y2":96},{"x":20,"y":96,"x2":130,"y2":96},
{"x":20,"y":126,"x2":20,"y2":195},{"x":20,"y":195,"x2":127,"y2":195},
{"x":20,"y":228,"x2":20,"y2":295},{"x":20,"y":295,"x2":128,"y2":295},
{"x":548,"y":22,"x2":548,"y2":91},{"x":548,"y":91,"x2":654,"y2":91},
{"x":548,"y":125,"x2":548,"y2":193},{"x":548,"y":193,"x2":654,"y2":193},
{"x":548,"y":229,"x2":548,"y2":296},{"x":548,"y":296,"x2":653,"y2":296}
],
"sb":[
{"b":"1","x":10,"y":13,"x2":133,"y2":108},{"b":"2","x":10,"y":114,"x2":133,"y2":208},{"b":"3","x":10,"y":218,"x2":133,"y2":308},
{"b":"1","x":537,"y":13,"x2":658,"y2":108},{"b":"2","x":537,"y":114,"x2":658,"y2":208},{"b":"3","x":537,"y":218,"x2":658,"y2":308}
],
"bb":[{"x":147,"y":60,"x2":412,"y2":307},{"x":672,"y":63,"x2":933,"y2":308}],
"cb":[{"x":428,"y":5,"x2":498,"y2":579}],
"sep":[{"x":6,"y":327,"x2":413,"y2":327},{"x":535,"y":328,"x2":932,"y2":328}],
"lbox":[{"x":338,"y":70,"x2":373,"y2":93},{"x":869,"y":77,"x2":898,"y2":100},{"x":193,"y":358,"x2":251,"y2":383},{"x":722,"y":348,"x2":780,"y2":372}],
"ls":[
{"s":"x","x":341.5,"y":74.5,"x2":351.5,"y2":74.5},{"s":"y","x":341.5,"y":81.7,"x2":351.5,"y2":81.7},{"s":"z","x":341.5,"y":89,"x2":351.5,"y2":89},
{"s":"x","x":871.5,"y":81,"x2":881.5,"y2":81},{"s":"y","x":871.5,"y":88.3,"x2":881.5,"y2":88.3},{"s":"z","x":871.5,"y":95.3,"x2":881.5,"y2":95.3}
],
"lt":[
{"x":355,"y":74.5,"t":"p(x)"},{"x":355,"y":81.7,"t":"p(y)"},{"x":355,"y":89,"t":"p(z)"},
{"x":885,"y":81,"t":"p(x)"},{"x":885,"y":88.3,"t":"p(y)"},{"x":885,"y":95.3,"t":"p(z)"}
],
"shaft":[
{"s":"az","x":255,"y":204,"x2":255,"y2":70},{"s":"ax","x":255,"y":204,"x2":392,"y2":204},{"s":"ay","x":255,"y":204,"x2":165,"y2":295},{"s":"r","x":255,"y":204,"x2":333,"y2":162},
{"s":"az","x":787,"y":208,"x2":787,"y2":74},{"s":"ax","x":787,"y":208,"x2":920,"y2":208},{"s":"ay","x":787,"y":208,"x2":698,"y2":295},{"s":"r","x":787,"y":208,"x2":781.5,"y2":146}
],
"heads":[
{"s":"az","a":0,"x":255,"y":69},{"s":"ax","a":90,"x":393,"y":204},{"s":"ay","a":224.7,"x":164.5,"y":295.4},{"s":"r","a":61.8,"x":333.6,"y":161.4},
{"s":"az","a":0,"x":787,"y":73},{"s":"ax","a":90,"x":921,"y":208},{"s":"ay","a":225.6,"x":697.6,"y":295.5},{"s":"r","a":355,"x":781.4,"y":145}
],
"gp":[
{"s":"gt","x":138,"y":470,"x2":143,"y2":363},{"s":"pr","x":138,"y":470,"x2":188,"y2":411},{"s":"pr","x":188,"y":411,"x2":173,"y2":417},{"s":"pr","x":188,"y":411,"x2":185,"y2":427},
{"s":"pr","x":665,"y":463,"x2":667,"y2":345},{"s":"gt","x":665,"y":463,"x2":671,"y2":353},
{"s":"gt","x":196,"y":364,"x2":210,"y2":364},{"s":"pr","x":196,"y":375.5,"x2":210,"y2":375.5},
{"s":"gt","x":725,"y":355,"x2":739,"y2":355},{"s":"pr","x":725,"y":366,"x2":739,"y2":366}
],
"gl":[{"x":215,"y":364,"t":"GT axis"},{"x":215,"y":375.5,"t":"Pred aixs"},{"x":744,"y":355,"t":"GT axis"},{"x":744,"y":366,"t":"Pred aixs"}],
"ttl":[{"x":284.5,"y":33,"t":"Predicted Axis Distribution"},{"x":802,"y":40,"t":"Predicted Axis Distribution"}],
"pa":[{"x":314.5,"y":458,"t":"Predicted Axis"},{"x":843.5,"y":455,"t":"Predicted Axis"}],
"cap":[{"x":204,"y":572,"t":"(a) Initial"},{"x":739,"y":572,"t":"(b) Trained"}],
"sym":[{"x":462,"y":315.5,"t":"Symmetry Learning"}]
},
"encoding":{
"x":{"field":"x","type":"quantitative","scale":{"domain":[0,937],"nice":false,"zero":false},"axis":null},
"y":{"field":"y","type":"quantitative","scale":{"domain":[0,587],"nice":false,"zero":false,"reverse":true},"axis":null}
},
"layer":[
{"data":{"name":"sep"},"mark":{"type":"rule","color":"#b6bfcf","strokeWidth":2.5},"encoding":{"x2":{"field":"x2"},"y2":{"field":"y2"}}},
{"data":{"name":"cb"},"mark":{"type":"rect","fill":"white","stroke":"#3e4852","strokeWidth":2,"cornerRadius":10},"encoding":{"x2":{"field":"x2"},"y2":{"field":"y2"}}},
{"data":{"name":"bb"},"mark":{"type":"rect","fill":"white","stroke":"#1f74bd","strokeWidth":2.6,"cornerRadius":14},"encoding":{"x2":{"field":"x2"},"y2":{"field":"y2"}}},
{"data":{"name":"sb"},"mark":{"type":"rect","fill":"white","strokeWidth":3.2,"strokeDash":[10,5],"cornerRadius":9},"encoding":{"x2":{"field":"x2"},"y2":{"field":"y2"},"stroke":{"field":"b","type":"nominal","scale":{"domain":["1","2","3"],"range":["#4a73c5","#a5b9e8","#2c4a90"]},"legend":null}}},
{"data":{"name":"ho"},"mark":{"type":"line","color":"#8797b1","strokeWidth":2.4,"strokeJoin":"miter"},"encoding":{"detail":{"field":"g"},"order":{"field":"o"}}},
{"data":{"name":"sp"},"mark":{"type":"rule","color":"#c4c4c4","strokeWidth":0.7},"encoding":{"x2":{"field":"x2"},"y2":{"field":"y2"}}},
{"data":{"name":"tk"},"mark":{"type":"text","font":"DejaVu Sans","fontSize":3,"color":"#666666","align":"center","baseline":"middle"},"encoding":{"text":{"field":"t"}}},
{"data":{"name":"tt"},"mark":{"type":"text","font":"DejaVu Sans","fontSize":3.5,"color":"#444444","align":"center","baseline":"middle"},"encoding":{"text":{"field":"t"}}},
{"data":{"name":"sc"},"mark":{"type":"line","strokeWidth":1.1,"interpolate":"monotone"},"encoding":{"detail":{"field":"g"},"order":{"field":"o"},"color":{"field":"s","type":"nominal","scale":{"domain":["x","y","z","ax","ay","az","r","gt","pr"],"range":["#1f77b4","#ff7f0e","#2ca02c","#2f7ec1","#f5821f","#56ad4f","#c01f3c","#000000","#e8141b"]},"legend":null}}},
{"data":{"name":"dc"},"mark":{"type":"line","strokeWidth":1.2,"opacity":0.45,"interpolate":"cardinal"},"encoding":{"detail":{"field":"g"},"order":{"field":"o"},"color":{"field":"s","type":"nominal","scale":{"domain":["x","y","z","ax","ay","az","r","gt","pr"],"range":["#1f77b4","#ff7f0e","#2ca02c","#2f7ec1","#f5821f","#56ad4f","#c01f3c","#000000","#e8141b"]},"legend":null}}},
{"data":{"name":"dd"},"mark":{"type":"line","strokeWidth":1.6,"opacity":0.5,"strokeDash":[6,4]},"encoding":{"detail":{"field":"g"},"order":{"field":"o"},"color":{"field":"s","type":"nominal","scale":{"domain":["x","y","z","ax","ay","az","r","gt","pr"],"range":["#1f77b4","#ff7f0e","#2ca02c","#2f7ec1","#f5821f","#56ad4f","#c01f3c","#000000","#e8141b"]},"legend":null}}},
{"data":{"name":"shaft"},"mark":{"type":"rule","strokeWidth":4},"encoding":{"x2":{"field":"x2"},"y2":{"field":"y2"},"color":{"field":"s","type":"nominal","scale":{"domain":["x","y","z","ax","ay","az","r","gt","pr"],"range":["#1f77b4","#ff7f0e","#2ca02c","#2f7ec1","#f5821f","#56ad4f","#c01f3c","#000000","#e8141b"]},"legend":null}}},
{"data":{"name":"heads"},"mark":{"type":"point","shape":"triangle-up","filled":true,"size":140,"opacity":1},"encoding":{"angle":{"field":"a","type":"quantitative","scale":null},"color":{"field":"s","type":"nominal","scale":{"domain":["x","y","z","ax","ay","az","r","gt","pr"],"range":["#1f77b4","#ff7f0e","#2ca02c","#2f7ec1","#f5821f","#56ad4f","#c01f3c","#000000","#e8141b"]},"legend":null}}},
{"data":{"name":"lbox"},"mark":{"type":"rect","fill":"white","stroke":"#dcdcdc","strokeWidth":0.8,"cornerRadius":1.5},"encoding":{"x2":{"field":"x2"},"y2":{"field":"y2"}}},
{"data":{"name":"ls"},"mark":{"type":"rule","strokeWidth":1},"encoding":{"x2":{"field":"x2"},"y2":{"field":"y2"},"color":{"field":"s","type":"nominal","scale":{"domain":["x","y","z","ax","ay","az","r","gt","pr"],"range":["#1f77b4","#ff7f0e","#2ca02c","#2f7ec1","#f5821f","#56ad4f","#c01f3c","#000000","#e8141b"]},"legend":null}}},
{"data":{"name":"lt"},"mark":{"type":"text","font":"DejaVu Sans","fontSize":4.5,"color":"#333333","align":"left","baseline":"middle"},"encoding":{"text":{"field":"t"}}},
{"data":{"name":"cloud"},"mark":{"type":"point","filled":true,"size":14,"color":"#3a7bd5","opacity":1},"encoding":{}},
{"data":{"name":"gp"},"mark":{"type":"rule","strokeWidth":2.6},"encoding":{"x2":{"field":"x2"},"y2":{"field":"y2"},"color":{"field":"s","type":"nominal","scale":{"domain":["x","y","z","ax","ay","az","r","gt","pr"],"range":["#1f77b4","#ff7f0e","#2ca02c","#2f7ec1","#f5821f","#56ad4f","#c01f3c","#000000","#e8141b"]},"legend":null}}},
{"data":{"name":"gl"},"mark":{"type":"text","font":"DejaVu Sans","fontSize":7,"color":"#333333","align":"left","baseline":"middle"},"encoding":{"text":{"field":"t"}}},
{"data":{"name":"ttl"},"mark":{"type":"text","font":"Liberation Serif","fontSize":21.5,"fontWeight":"bold","color":"#111111","align":"center","baseline":"middle"},"encoding":{"text":{"field":"t"}}},
{"data":{"name":"pa"},"mark":{"type":"text","font":"Liberation Serif","fontSize":23,"color":"#111111","align":"center","baseline":"middle"},"encoding":{"text":{"field":"t"}}},
{"data":{"name":"cap"},"mark":{"type":"text","font":"Liberation Serif","fontSize":23.5,"color":"#111111","align":"center","baseline":"middle"},"encoding":{"text":{"field":"t"}}},
{"data":{"name":"sym"},"mark":{"type":"text","font":"Liberation Serif","fontSize":31,"color":"#111111","align":"center","baseline":"middle","angle":270},"encoding":{"text":{"field":"t"}}}
]
}
